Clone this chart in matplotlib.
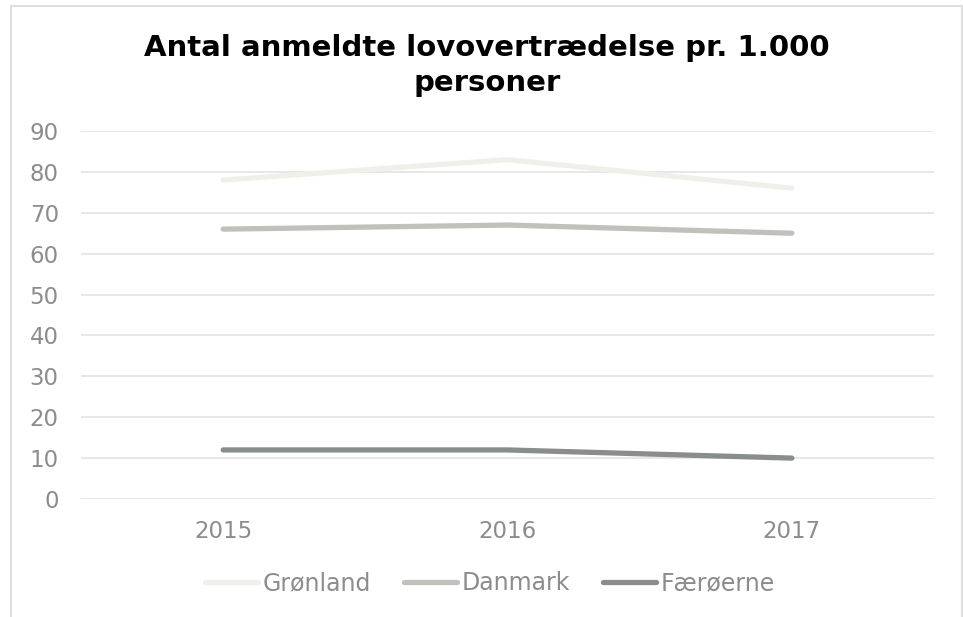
import matplotlib
matplotlib.use("Agg")
import matplotlib.pyplot as plt
from matplotlib.patches import Rectangle

years = ["2015", "2016", "2017"]
gronland = [78, 83, 76]
danmark = [66, 67, 65]
faeroerne = [12, 12, 10]
series_names = ["Grønland", "Danmark", "Færøerne"]
colors = ["#F0F0EB", "#C0C1BA", "#8A8E8A"]

plt.rcParams['font.family'] = ['DejaVu Sans']

fig = plt.figure(figsize=(9.63, 6.17), dpi=100)
ax = fig.add_axes([81/963, 1-499/617, (934-81)/963, (499-131)/617])

x = list(range(len(years)))
for vals, name, c in zip([gronland, danmark, faeroerne], series_names, colors):
    ax.plot(x, vals, color=c, lw=3.8, solid_capstyle='round', label=name, zorder=3)

ax.set_xlim(-0.5, 2.5)
ax.set_ylim(0, 90)
ax.set_yticks(range(0, 91, 10))
ax.set_xticks(x)
ax.set_xticklabels(years)
ax.grid(axis='y', color='#E3E3E3', lw=1.2, zorder=0)
for s in ax.spines.values():
    s.set_visible(False)
ax.tick_params(axis='both', length=0, labelsize=16.5, colors='#8C8C8C')
ax.tick_params(axis='y', pad=16)
ax.tick_params(axis='x', pad=15)

fig.text(487/963, 1-48/617, "Antal anmeldte lovovertrædelse pr. 1.000", ha='center', va='center',
         fontsize=21, fontweight='bold', color='black')
fig.text(487/963, 1-83/617, "personer", ha='center', va='center',
         fontsize=21, fontweight='bold', color='black')

leg = fig.legend(loc='center', bbox_to_anchor=(490/963, 1-583/617), ncol=3, frameon=False,
                 fontsize=17, handlelength=2.25, handletextpad=0.2, columnspacing=1.4)
for t in leg.get_texts():
    t.set_color('#8C8C8C')

fig.patches.append(Rectangle((11/963, -0.05), (962-11)/963, 1.05-6/617, transform=fig.transFigure,
                             fill=False, edgecolor='#D9D9D9', lw=1.2))

fig.savefig("out.png", dpi=100)
